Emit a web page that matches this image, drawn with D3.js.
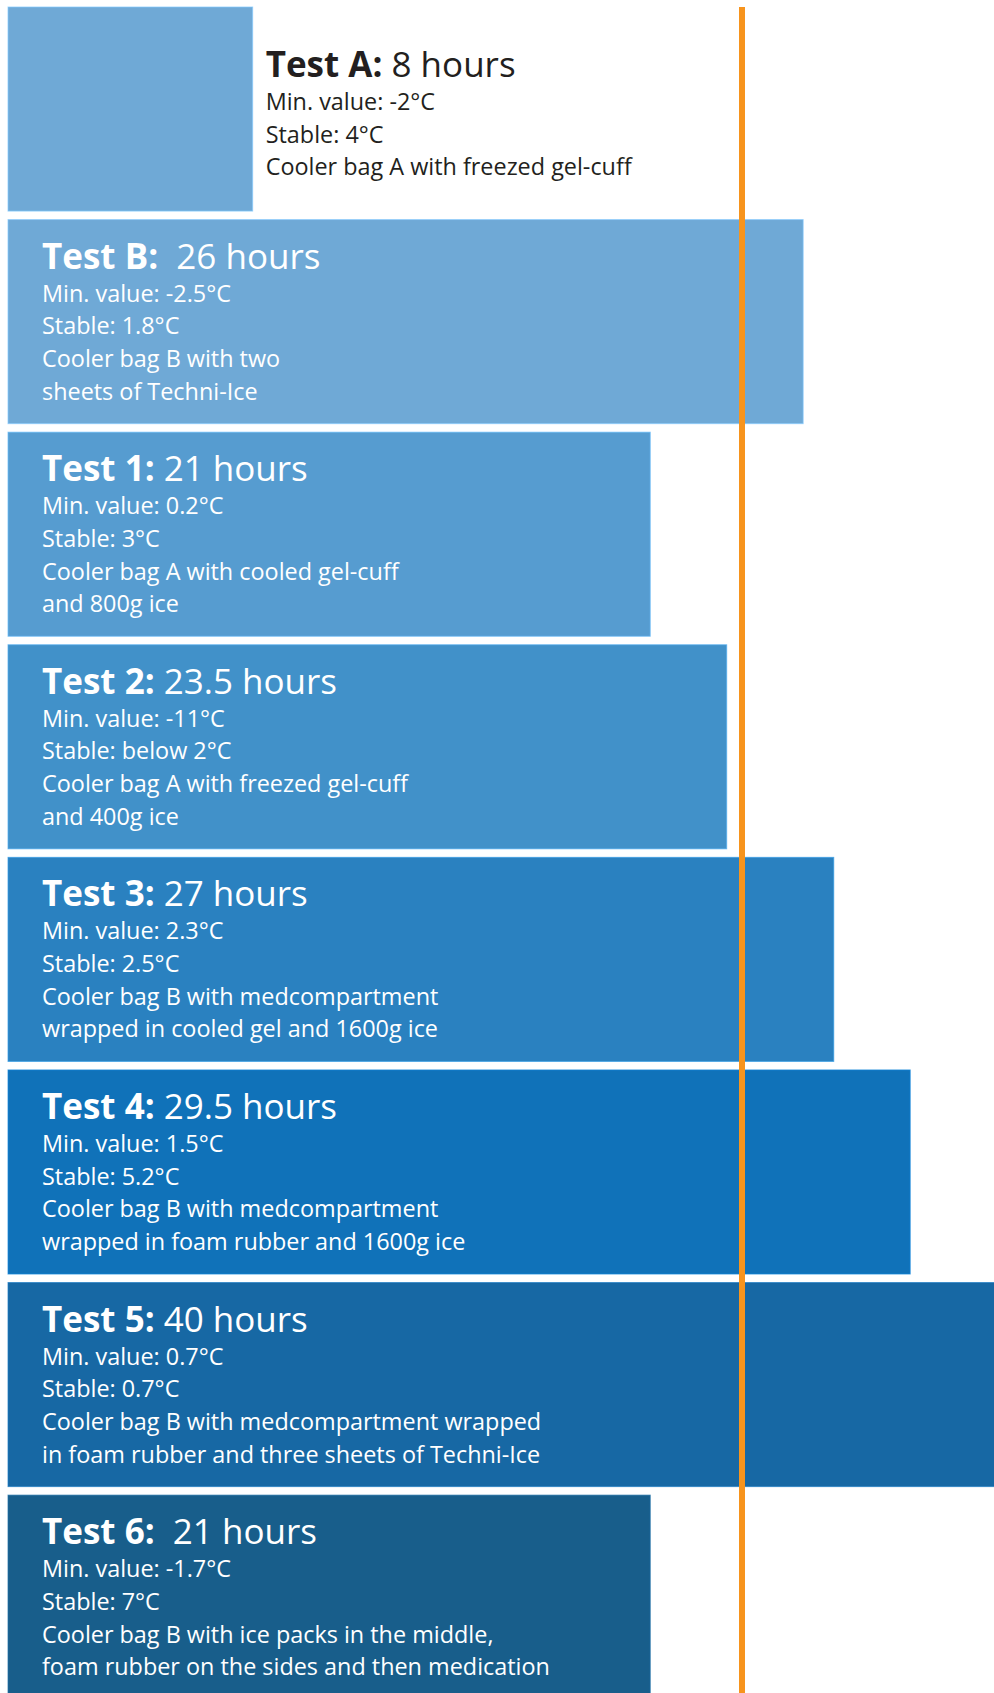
<!DOCTYPE html>
<html>
<head>
<meta charset="utf-8">
<script src="https://cdn.jsdelivr.net/npm/d3@7"></script>
<style>
  html, body { margin: 0; padding: 0; background: #ffffff; }
  svg { display: block; }
  text { font-family: "Open Sans", "Noto Sans", sans-serif; white-space: pre; }
</style>
</head>
<body>
<svg id="chart" width="994" height="1693"></svg>
<script>
// Cooler bag tests: how long each setup kept medication cool
const tests = ["Test A:", "Test B: ", "Test 1:", "Test 2:", "Test 3:", "Test 4:", "Test 5:", "Test 6: "];
const hours = [8, 26, 21, 23.5, 27, 29.5, 40, 21];
const minValues = ["-2°C", "-2.5°C", "0.2°C", "-11°C", "2.3°C", "1.5°C", "0.7°C", "-1.7°C"];
const stableValues = ["4°C", "1.8°C", "3°C", "below 2°C", "2.5°C", "5.2°C", "0.7°C", "7°C"];
const descriptions = [
  ["Cooler bag A with freezed gel-cuff"],
  ["Cooler bag B with two", "sheets of Techni-Ice"],
  ["Cooler bag A with cooled gel-cuff", "and 800g ice"],
  ["Cooler bag A with freezed gel-cuff", "and 400g ice"],
  ["Cooler bag B with medcompartment", "wrapped in cooled gel and 1600g ice"],
  ["Cooler bag B with medcompartment", "wrapped in foam rubber and 1600g ice"],
  ["Cooler bag B with medcompartment wrapped", "in foam rubber and three sheets of Techni-Ice"],
  ["Cooler bag B with ice packs in the middle,", "foam rubber on the sides and then medication"]
];
const barColors = ["#6fa9d6", "#6fa9d6", "#569cd0", "#4191c9", "#2a81c0", "#1072b9", "#1768a4", "#185e8b"];
const targetHours = 24;

const width = 994, height = 1693;
const svg = d3.select("#chart");

const x = d3.scaleLinear().domain([0, targetHours]).range([8, 742]);
const y = d3.scaleBand().domain(tests).range([7, 1699.2]).paddingInner(0.04).paddingOuter(0);

const rows = tests.map((t, i) => ({
  name: t,
  hours: hours[i],
  lines: [`Min. value: ${minValues[i]}`, `Stable: ${stableValues[i]}`, ...descriptions[i]],
  color: barColors[i]
}));

// bars
svg.append("g").selectAll("rect")
  .data(rows)
  .join("rect")
  .attr("x", x(0))
  .attr("y", d => y(d.name))
  .attr("width", d => x(d.hours) - x(0))
  .attr("height", y.bandwidth())
  .attr("fill", d => d.color)
  .attr("stroke", d => d3.color(d.color).brighter(0.5))
  .attr("stroke-width", 1)
  .attr("stroke-opacity", 0.7);

// labels
const titleSize = 35, bodySize = 23.4, pitch = 32.7;
const labels = svg.append("g").selectAll("g")
  .data(rows)
  .join("g");

labels.each(function (d) {
  const g = d3.select(this);
  const total = d.lines.length + 1;
  const top = y(d.name) + 49 + (5 - total) * 21;
  const t = g.append("text")
    .attr("xml:space", "preserve")
    .attr("y", top)
    .attr("font-size", titleSize);
  t.append("tspan").attr("font-weight", 700).text(d.name);
  t.append("tspan").attr("font-weight", 400).text(` ${d.hours} hours`);
  d.lines.forEach((line, k) => {
    g.append("text")
      .attr("y", top + 33 + k * pitch)
      .attr("font-size", bodySize)
      .text(line);
  });
  // place the block inside the bar when it fits, otherwise just after it
  let w = 0;
  g.selectAll("text").each(function () { w = Math.max(w, this.getComputedTextLength()); });
  const barW = x(d.hours) - x(0);
  const inside = w + 40 < barW;
  g.selectAll("text")
    .attr("x", inside ? x(0) + 34 : x(d.hours) + 13)
    .attr("fill", inside ? "#ffffff" : "#231f20");
});

// 24 hour reference line
svg.append("line")
  .attr("x1", x(targetHours)).attr("x2", x(targetHours))
  .attr("y1", 7).attr("y2", height)
  .attr("stroke", "#f7941d")
  .attr("stroke-width", 6);
</script>
</body>
</html>
